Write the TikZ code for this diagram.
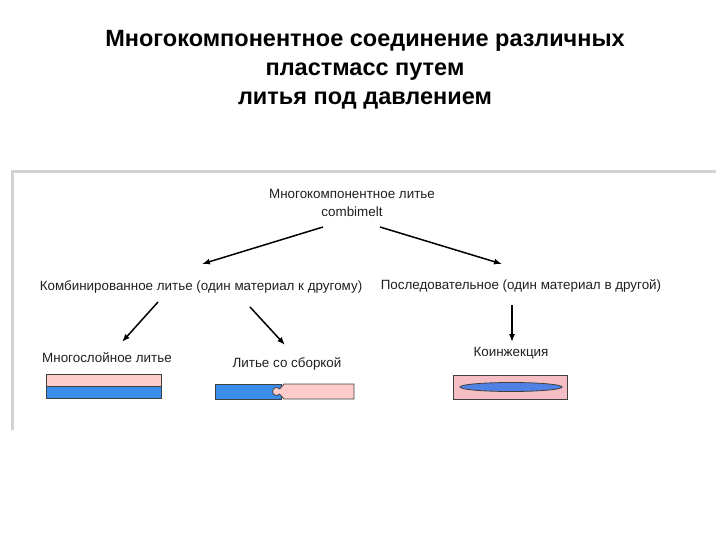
\documentclass[tikz,border=0pt]{standalone}
\usepackage{fontspec}
\setmainfont{Liberation Sans}
\usetikzlibrary{arrows.meta}
\definecolor{pinkpart}{HTML}{FFCCCC}
\definecolor{bluepart}{HTML}{3A8EEA}
\definecolor{pinkco}{HTML}{F6BEC4}
\definecolor{blueco}{HTML}{4F82E4}
\begin{document}
\begin{tikzpicture}[x=1pt, y=-1pt, thick, >={Latex[length=8pt,width=6pt]}]
    \tikzstyle{heading}=[font=\fontsize{23.5}{29}\selectfont\bfseries, align=center, inner sep=0pt]
    \tikzstyle{txt}=[font=\fontsize{13.4}{17.5}\selectfont, align=center, inner sep=1pt, text=black!88]
    \tikzstyle{link}=[->, line width=1.5pt]
    \tikzstyle{part}=[draw=black!75, line width=0.8pt]

    \useasboundingbox (0,0) rectangle (720,540);

    % Title
    \node[heading] (T) at (365,70) {Многокомпонентное соединение различных\\пластмасс путем\\литья под давлением};

    % Panel frame
    \draw[gray!35, line width=3pt] (12,430) -- (12,172) -- (716,172);

    % Top level
    \node[txt] (M) at (352,203) {Многокомпонентное литье\\combimelt};

    % Second level
    \node[txt] (C) at (201,287) {Комбинированное литье (один материал к другому)};
    \node[txt] (S) at (521,286) {Последовательное (один материал в другой)};

    % Third level
    \node[txt] (L) at (107,358) {Многослойное литье};
    \node[txt] (A) at (287,364) {Литье со сборкой};
    \node[txt] (K) at (511,353) {Коинжекция};

    % Connect top level to second level
    \draw[link] ([shift={(-29,24)}]M.center) -- ([shift={(1,-23)}]C.center);
    \draw[link] ([shift={(28,24)}]M.center) -- ([shift={(-19,-22)}]S.center);

    % Connect second level to third level
    \draw[link] ([shift={(-43,15)}]C.center) -- ([shift={(15,-16)}]L.center);
    \draw[link] ([shift={(49,20)}]C.center) -- ([shift={(-2,-19)}]A.center);
    \draw[link] ([shift={(-9,19)}]S.center) -- ([shift={(1,-11)}]K.center);

    % Multilayer part
    \draw[part, fill=pinkpart] (46.5,374) rectangle (161.5,386);
    \draw[part, fill=bluepart] (46.5,386) rectangle (161.5,398);

    % Assembled part
    \draw[part, fill=bluepart] (215,384) rectangle (281,399);
    \draw[part, fill=pinkpart] (284,384) -- (354,384) -- (354,399) -- (284,399)
        -- (279.6,394.1) arc[start angle=40, end angle=320, radius=4] -- cycle;

    % Coinjection part
    \draw[part, fill=pinkco] (453,375.5) rectangle (567.5,399);
    \draw[part, fill=blueco] (511,387) ellipse[x radius=51, y radius=4.5];
\end{tikzpicture}
\end{document}
